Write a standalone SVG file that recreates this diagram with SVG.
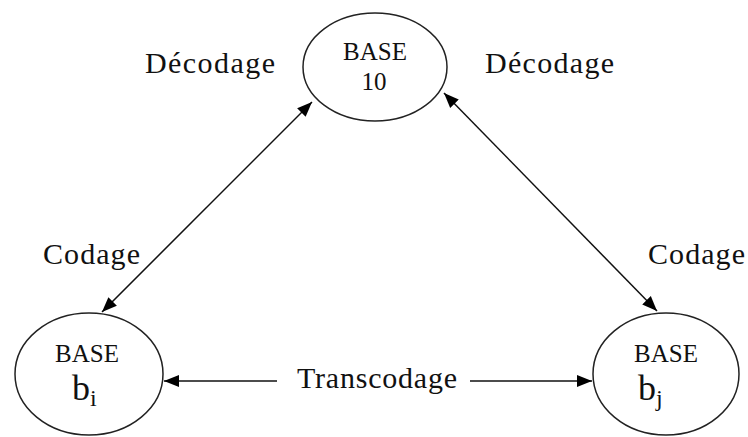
<svg xmlns="http://www.w3.org/2000/svg" width="748" height="437" viewBox="0 0 748 437">
<defs>
<marker id="ah" markerUnits="userSpaceOnUse" markerWidth="16" markerHeight="14" refX="15" refY="6" orient="auto-start-reverse" viewBox="0 0 16 12">
<path d="M0,0 L15,6 L0,12 Z" fill="#000"/>
</marker>
<style>
.node{fill:#fff;stroke:#222;stroke-width:1.5}
.lbl{font-family:"Liberation Serif","Times New Roman",serif;fill:#111}
.big{font-size:30px}
.base{font-size:25px}
.conn line{stroke:#111;stroke-width:1.5}
</style>
</defs>
<rect width="748" height="437" fill="#fff"/>
<g id="connectors" class="conn">
<line x1="312" y1="102" x2="102" y2="312" marker-start="url(#ah)" marker-end="url(#ah)"/>
<line x1="444" y1="93" x2="657" y2="311" marker-start="url(#ah)" marker-end="url(#ah)"/>
<line x1="277" y1="381" x2="164" y2="381" marker-end="url(#ah)"/>
<line x1="470" y1="381" x2="592" y2="381" marker-end="url(#ah)"/>
</g>
<g id="base10">
<ellipse class="node" cx="375" cy="67" rx="72" ry="54"/>
<text class="lbl base" x="375" y="60" text-anchor="middle">BASE</text>
<text class="lbl base" x="374" y="90" text-anchor="middle">10</text>
</g>
<g id="basebi">
<ellipse class="node" cx="89" cy="374" rx="74" ry="61"/>
<text class="lbl base" x="87" y="362" text-anchor="middle">BASE</text>
<text class="lbl" x="72" y="400" font-size="36">b<tspan font-size="24" dy="6">i</tspan></text>
</g>
<g id="basebj">
<ellipse class="node" cx="666" cy="374" rx="73" ry="61"/>
<text class="lbl base" x="666" y="362" text-anchor="middle">BASE</text>
<text class="lbl" x="638" y="400" font-size="36">b<tspan font-size="24" dy="6">j</tspan></text>
</g>
<g id="labels">
<text class="lbl big" x="145" y="73" textLength="130">Décodage</text>
<text class="lbl big" x="485" y="73" textLength="129">Décodage</text>
<text class="lbl big" x="43" y="264" textLength="97">Codage</text>
<text class="lbl big" x="648" y="264" textLength="97">Codage</text>
<text class="lbl big" x="297" y="388" textLength="160">Transcodage</text>
</g>
</svg>
